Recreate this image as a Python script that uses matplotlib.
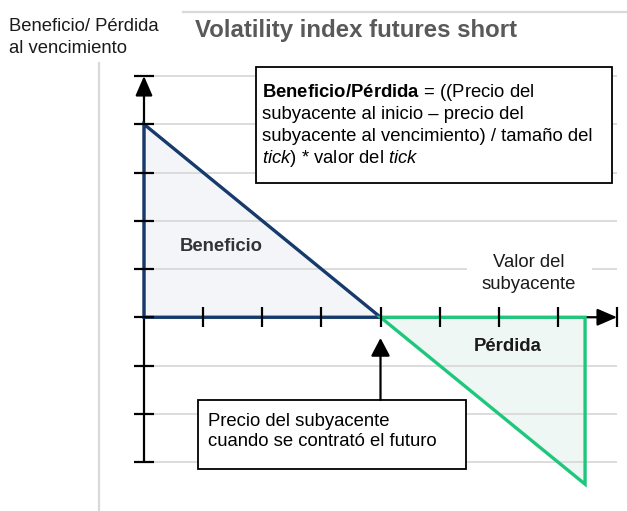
import matplotlib
matplotlib.use("Agg")
import matplotlib.pyplot as plt
from matplotlib.patches import Polygon, Rectangle
from matplotlib.lines import Line2D

plt.rcParams['font.family'] = ['Liberation Sans', 'DejaVu Sans']
plt.rcParams['mathtext.fontset'] = 'custom'
plt.rcParams['mathtext.rm'] = 'Liberation Sans'
plt.rcParams['mathtext.bf'] = 'Liberation Sans:bold'
plt.rcParams['mathtext.it'] = 'Liberation Sans:italic'

# values (grid units)
x_ticks = [1, 2, 3, 4, 5, 6, 7, 8]
y_ticks = [-3, -2, -1, 0, 1, 2, 3, 4, 5]
strike = 4
profit_x = [0, 0, 4]
profit_y = [4, 0, 0]
loss_x = [4, 7.46, 7.46]
loss_y = [0, 0, -3.46]

title = "Volatility index futures short"
ylabel = ["Beneficio/ Pérdida", "al vencimiento"]
xlabel = ["Valor del", "subyacente"]
formula = [r"$\mathbf{Beneficio/Pérdida}$ = ((Precio del",
           "subyacente al inicio – precio del",
           "subyacente al vencimiento) / tamaño del",
           r"$\mathit{tick}$) * valor del $\mathit{tick}$"]
note = ["Precio del subyacente", "cuando se contrató el futuro"]

NAVY = "#163a6b"
GREEN = "#1fc77c"
GRID = "#d9d9d9"
FS = 13.3

W, H = 627, 511
fig = plt.figure(figsize=(W / 100, H / 100), dpi=100)
ax = fig.add_axes([144 / W, 1 - 462 / H, (617 - 144) / W, (462 - 76) / H])
ax.set_xlim(0, 8)
ax.set_ylim(-3, 5)
ax.axis("off")


def dx(px):
    return (px - 144) / ((617 - 144) / 8)


def dy(py):
    return 5 - (py - 76) / ((462 - 76) / 8)


def lines_at(x, y0, step, lines, **kw):
    # one text per line so each baseline sits where the reference has it
    for i, s in enumerate(lines):
        ax.text(dx(x), dy(y0 + step * i), s, fontsize=FS, va="baseline",
                zorder=6, **kw)


# frame lines of the slide
fig.add_artist(Line2D([183 / W, 1], [1 - 12 / H, 1 - 12 / H], color=GRID, lw=1.6))
fig.add_artist(Line2D([99 / W, 99 / W], [1 - 63 / H, 0], color=GRID, lw=1.6))

fig.text(195 / W, 1 - 37 / H, title, fontsize=17.3, fontweight="bold",
         color="#595959", va="baseline")
for i, s in enumerate(ylabel):
    fig.text(9 / W, 1 - (31 + 22 * i) / H, s, fontsize=FS, color="#1a1a1a",
             va="baseline")

# grid
ax.hlines(y_ticks, 0, 8, color=GRID, lw=1.3, zorder=2, clip_on=False)

# profit / loss areas
ax.fill(profit_x, profit_y, color="#f3f5f9", zorder=1, clip_on=False)
ax.fill(loss_x, loss_y, color="#eef7f3", zorder=1, clip_on=False)

# axes with arrows
arrow = dict(arrowstyle="-|>,head_length=0.6,head_width=0.26", mutation_scale=20,
             lw=1.6, color="black", shrinkA=0, shrinkB=0)
ax.annotate("", xy=(0, 5), xytext=(0, -3), arrowprops=arrow, zorder=2.5,
            annotation_clip=False)
ax.annotate("", xy=(8, 0), xytext=(0, 0), arrowprops=arrow, zorder=2.5,
            annotation_clip=False)

ax.add_patch(Polygon(list(zip(profit_x, profit_y)), closed=True, fill=False,
                     ec=NAVY, lw=2.4, joinstyle="miter", zorder=3, clip_on=False))
ax.add_patch(Polygon(list(zip(loss_x, loss_y)), closed=True, fill=False,
                     ec=GREEN, lw=2.4, joinstyle="miter", zorder=3, clip_on=False))

# ticks
ax.vlines(x_ticks, -0.207, 0.207, color="black", lw=1.6, zorder=4, clip_on=False)
ax.hlines(y_ticks, -0.169, 0.169, color="black", lw=1.6, zorder=4, clip_on=False)

# area labels
ax.text(dx(221), dy(251), "Beneficio", fontsize=FS, fontweight="bold",
        color="#333333", ha="center", va="baseline", zorder=6)
ax.text(dx(508), dy(351), "Pérdida", fontsize=FS, fontweight="bold",
        color="#1a1a1a", ha="center", va="baseline", zorder=6)
ax.add_patch(Rectangle((dx(467), dy(292)), dx(592) - dx(467), dy(252) - dy(292),
                       fc="white", ec="none", zorder=2.2, clip_on=False))
lines_at(529, 267, 22, xlabel, color="#1a1a1a", ha="center")

# formula box
ax.add_patch(Rectangle((dx(256), dy(183)), dx(612) - dx(256), dy(67) - dy(183),
                       fc="white", ec="black", lw=1.3, zorder=5, clip_on=False))
lines_at(262, 97, 22, formula, color="black")

# strike note with arrow
ax.add_patch(Rectangle((dx(198), dy(469)), dx(466) - dx(198), dy(400) - dy(469),
                       fc="white", ec="black", lw=1.3, zorder=5, clip_on=False))
lines_at(208, 426, 20, note, color="black")
up = dict(arrowstyle="-|>,head_length=0.55,head_width=0.29", mutation_scale=20,
          lw=1.6, color="black", shrinkA=0, shrinkB=0)
ax.annotate("", xy=(strike, dy(338)), xytext=(strike, dy(400)), arrowprops=up,
            zorder=5, annotation_clip=False)

fig.savefig("out.png", dpi=100)
